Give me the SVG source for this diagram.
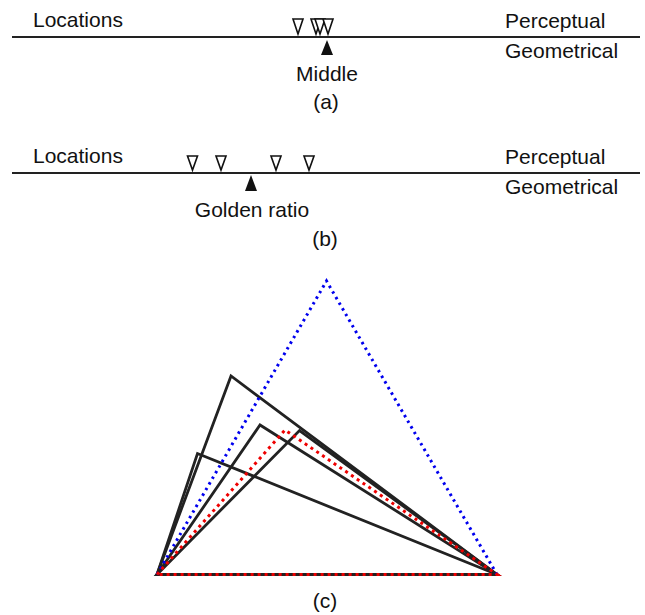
<svg xmlns="http://www.w3.org/2000/svg" width="645" height="615" viewBox="0 0 645 615">
<style>
text{font-family:"Liberation Sans",Arial,sans-serif;font-size:21px;fill:#111}
.mid{text-anchor:middle}
.axis{stroke:#222;stroke-width:2.2;fill:none}
.open{fill:#fff;stroke:#111;stroke-width:1.6}
.solid{fill:#111}
.tri{fill:none;stroke:#222;stroke-width:2.8;stroke-linejoin:miter}
.blue{fill:none;stroke:#0000ee;stroke-width:3;stroke-dasharray:2.5 4;stroke-linecap:butt}
.red{fill:none;stroke:#ee0000;stroke-width:3;stroke-dasharray:3 4}
</style>
<rect width="645" height="615" fill="#fff"/>
<g id="panel-a">
  <text x="33" y="27">Locations</text>
  <text x="505" y="28">Perceptual</text>
  <text x="505" y="58">Geometrical</text>
  <line class="axis" x1="12" y1="37" x2="640" y2="37"/>
  <polygon class="open" points="293,19 303,19 298,34"/>
  <polygon class="open" points="311,19 321,19 316,34"/>
  <polygon class="open" points="315,19 325,19 320,34"/>
  <polygon class="open" points="323,19 333,19 328,34"/>
  <polygon class="solid" points="327,40 333,55 321,55"/>
  <text class="mid" x="327" y="81">Middle</text>
  <text class="mid" x="326" y="109">(a)</text>
</g>
<g id="panel-b">
  <text x="33" y="163">Locations</text>
  <text x="505" y="164">Perceptual</text>
  <text x="505" y="194">Geometrical</text>
  <line class="axis" x1="12" y1="173" x2="640" y2="173"/>
  <polygon class="open" points="187.5,156 197.5,156 192.5,170"/>
  <polygon class="open" points="216,156 226,156 221,170"/>
  <polygon class="open" points="271,156 281,156 276,170"/>
  <polygon class="open" points="304,156 314,156 309,170"/>
  <polygon class="solid" points="251,175 257,191 245,191"/>
  <text class="mid" x="252" y="217">Golden ratio</text>
  <text class="mid" x="325" y="246">(b)</text>
</g>
<g id="panel-c">
  <polygon class="tri" points="157,574.5 231,376 497,574.5"/>
  <polygon class="tri" points="157,574.5 260,425 497,574.5"/>
  <polygon class="tri" points="157,574.5 197.5,453.5 497,574.5"/>
  <polygon class="tri" points="157,574.5 299.5,430.5 497,574.5"/>
  <polyline class="blue" points="157,574.5 326.5,281 497,574.5"/>
  <polygon class="red" points="157,574.5 285,430 497,574.5"/>
  <text class="mid" x="325" y="608">(c)</text>
</g>
</svg>
